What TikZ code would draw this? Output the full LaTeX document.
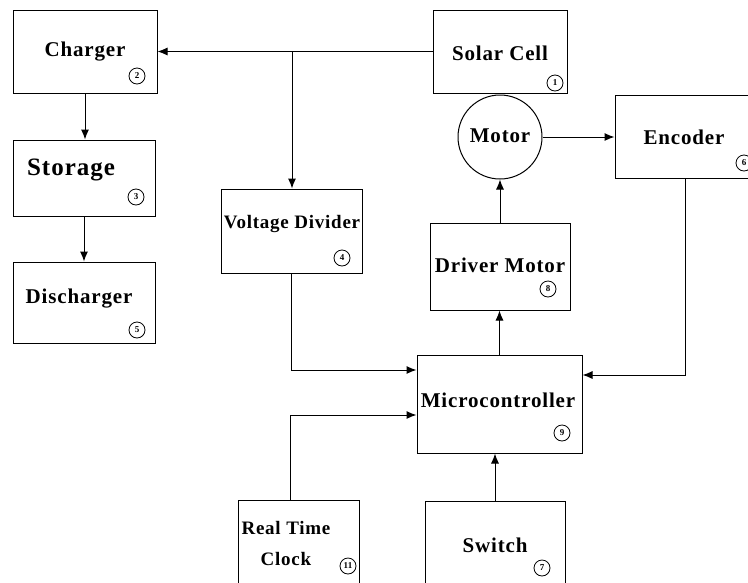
\documentclass[tikz,border=0pt]{standalone}
\usepackage{fontspec}
\setmainfont{Liberation Serif}[LetterSpace=4]
\usetikzlibrary{arrows.meta}
\tikzset{
  box/.style={draw, rectangle, line width=1pt, inner sep=0pt},
  lbl/.style={font=\fontsize{21}{23}\selectfont\bfseries, inner sep=0pt, align=center},
  num/.style={draw, circle, line width=0.8pt, minimum size=16pt, inner sep=0pt, font=\fontsize{9}{9}\selectfont\bfseries},
  arr/.style={-{Latex[length=10pt,width=8pt]}, line width=1pt},
  ln/.style={line width=1pt}
}
\begin{document}
\begin{tikzpicture}[x=1pt,y=-1pt]
\useasboundingbox (0,0) rectangle (748,582);
\clip (0,0) rectangle (748,582);
% boxes
\node[box, minimum width=144pt, minimum height=83pt] (charger) at (85,51.5) {};
\node[box, minimum width=142pt, minimum height=76pt] (storage) at (84,178) {};
\node[box, minimum width=142pt, minimum height=81pt] (discharger) at (84,302.5) {};
\node[box, minimum width=134pt, minimum height=83pt] (solar) at (500,51.5) {};
\node[draw, circle, line width=1pt, minimum size=84pt, inner sep=0pt] (motor) at (500,137) {};
\node[box, minimum width=145pt, minimum height=83pt] (encoder) at (687.5,136.5) {};
\node[box, minimum width=141pt, minimum height=84pt] (vd) at (291.5,231) {};
\node[box, minimum width=140pt, minimum height=87pt] (driver) at (500,266.5) {};
\node[box, minimum width=165pt, minimum height=98pt] (micro) at (499.5,404) {};
\node[box, minimum width=121pt, minimum height=100pt] (rtc) at (298.5,550) {};
\node[box, minimum width=140pt, minimum height=99pt] (switch) at (495,550.5) {};
% labels
\node[lbl] (tcharger) at (85,52) {Charger};
\node[lbl, font=\fontsize{25}{27}\selectfont\bfseries] (tstorage) at (71,170) {Storage};
\node[lbl] (tdischarger) at (79,299) {Discharger};
\node[lbl] (tsolar) at (500,53) {Solar Cell};
\node[lbl] (tmotor) at (500,136) {Motor};
\node[lbl] (tencoder) at (684,137) {Encoder};
\node[lbl, font=\fontsize{19}{21}\selectfont\bfseries] (tvd) at (292,224) {Voltage Divider};
\node[lbl] (tdriver) at (500,265) {Driver Motor};
\node[lbl] (tmicro) at (498,400) {Microcontroller};
\node[lbl, font=\fontsize{19}{21}\selectfont\bfseries] (trtc1) at (286,528) {Real Time};
\node[lbl, font=\fontsize{19}{21}\selectfont\bfseries] (trtc2) at (286,559) {Clock};
\node[lbl] (tswitch) at (495,545) {Switch};
% numbers
\node[num] (ncharger) at (137,76) {2};
\node[num] (nstorage) at (136,197) {3};
\node[num] (ndischarger) at (137,330) {5};
\node[num] (nsolar) at (555,83) {1};
\node[num] (nencoder) at (744,163) {6};
\node[num] (nvd) at (342,258) {4};
\node[num] (ndriver) at (548,289) {8};
\node[num] (nmicro) at (562,433) {9};
\node[num] (nrtc) at (348,566) {11};
\node[num] (nswitch) at (542,568) {7};
% connectors
\coordinate (j) at (292,51.5);
\draw[arr] (solar.west) -- (charger.east);
\draw[arr] (j) -- (j |- vd.north);
\draw[arr] (charger.south) -- (charger.south |- storage.north);
\draw[arr] (storage.south) -- (storage.south |- discharger.north);
\draw[arr] (vd.south) |- ([yshift=34pt]micro.west);
\draw[arr] ([xshift=-8.5pt]rtc.north) |- ([yshift=-11pt]micro.west);
\draw[arr] (switch.north) -- (switch.north |- micro.south);
\draw[arr] (micro.north) -- (micro.north |- driver.south);
\draw[arr] (driver.north) -- (motor.south);
\draw[arr] (motor.east) -- (motor.east -| encoder.west);
\draw[arr] ([xshift=-2.5pt]encoder.south) |- ([yshift=29pt]micro.east);
\end{tikzpicture}
\end{document}
